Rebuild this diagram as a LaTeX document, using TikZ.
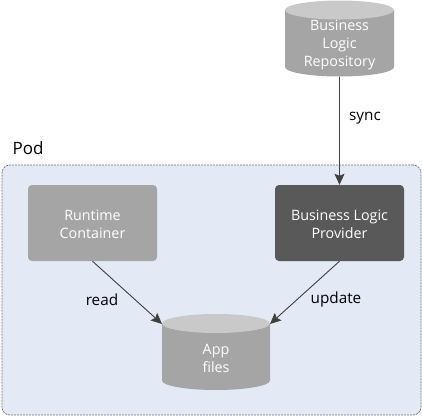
\documentclass[tikz,border=0pt]{standalone}
\usepackage{fontspec}
\setmainfont{Open Sans}
\usetikzlibrary{arrows.meta}
\definecolor{podfill}{HTML}{E3E9F5}
\definecolor{podline}{HTML}{6F6F6F}
\definecolor{midgray}{HTML}{A5A5A5}
\definecolor{topgray}{HTML}{C9C9C9}
\definecolor{darkbox}{HTML}{595959}
\definecolor{wire}{HTML}{404040}
\tikzset{
  x=1pt,y=-1pt,
  boxtext/.style={text=white,align=center,font=\fontsize{14.3}{17.8}\selectfont,inner sep=0pt},
  box/.style={rounded corners=4pt,minimum width=129pt,minimum height=76pt,inner sep=0pt,
    label={[boxtext,yshift=-1.5pt]center:{#1}}},
  drum/.style 2 args={minimum width=#1,minimum height=76pt,inner sep=0pt,outer sep=0pt,
    label={[boxtext,yshift=-6.5pt]center:{#2}},
    path picture={
      \fill[midgray] (path picture bounding box.west) ++(0pt,28.5pt) -- ++(0pt,-57pt)
        arc[start angle=180,end angle=360,x radius=#1/2,y radius=9.5pt] -- ++(0pt,57pt) -- cycle;
      \fill[topgray] ([yshift=28.5pt]path picture bounding box.center) ellipse[x radius=#1/2,y radius=9.5pt];
    }},
  wirearrow/.style={draw=wire,line width=0.9pt,-{Stealth[length=11pt,width=10pt,inset=2pt]}},
  lab/.style={text=black,font=\fontsize{15.3}{18}\selectfont,inner sep=0pt},
}
\begin{document}
\begin{tikzpicture}
\useasboundingbox (0,0) rectangle (422,416);
\node[lab,font=\fontsize{17}{20}\selectfont] (podlabel) at (28,148) {Pod};
\node[draw=podline,fill=podfill,dash pattern=on 2pt off 1pt,line width=0.7pt,rounded corners=8pt,minimum width=419pt,minimum height=250pt,inner sep=0pt] (pod) at (211.5,290) {};
\node[drum={109pt}{Business\\Logic\\Repository}] (repo) at (339.5,38.5) {};
\node[box={Runtime\\Container},fill=midgray] (runtime) at (92.5,223) {};
\node[box={Business Logic\\Provider},fill=darkbox] (provider) at (339.5,223) {};
\node[drum={108pt}{App\\files}] (app) at (216,352) {};
\coordinate (appL) at (162,324);
\coordinate (appR) at (270,324);
\draw[wirearrow] (repo.south) -- (provider.north);
\draw[wirearrow] (runtime.south) -- (appL);
\draw[wirearrow] (provider.south) -- (appR);
\node[lab] (sync) at (365,118) {sync};
\node[lab] (read) at (102,300) {read};
\node[lab] (update) at (336,300) {update};
\end{tikzpicture}
\end{document}
